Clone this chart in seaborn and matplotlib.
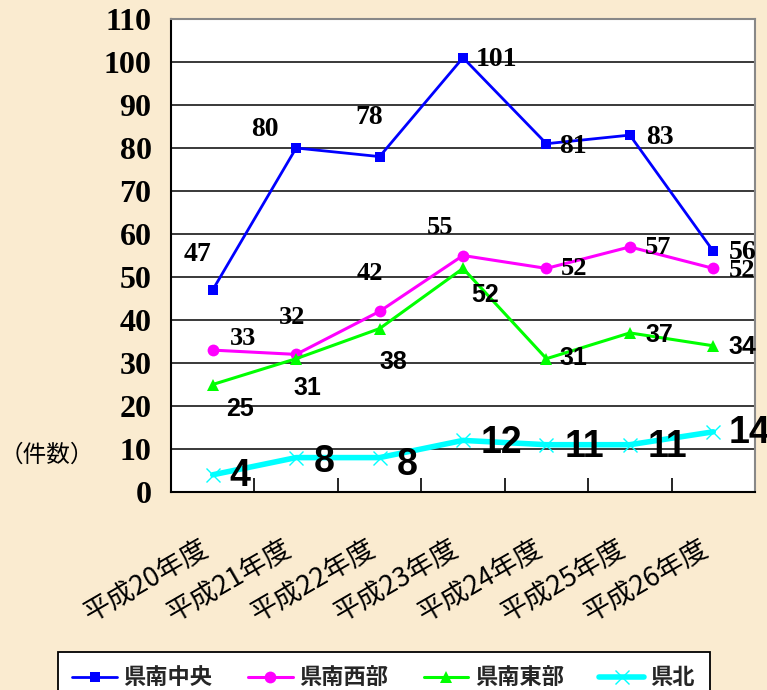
import numpy as np
import pandas as pd
import matplotlib
matplotlib.use("Agg")
import matplotlib.pyplot as plt
from matplotlib.transforms import ScaledTranslation
import seaborn as sns

# ---- data -------------------------------------------------------------
years = ["平成20年度", "平成21年度", "平成22年度", "平成23年度",
         "平成24年度", "平成25年度", "平成26年度"]
region_names = ["県南中央", "県南西部", "県南東部", "県北"]
kennan_chuo = [47, 80, 78, 101, 81, 83, 56]
kennan_seibu = [33, 32, 42, 55, 52, 57, 52]
kennan_tobu = [25, 31, 38, 52, 31, 37, 34]
kenpoku = [4, 8, 8, 12, 11, 11, 14]
y_ticks = list(range(0, 111, 10))
y_unit = "（件数）"

values = [kennan_chuo, kennan_seibu, kennan_tobu, kenpoku]
df = pd.DataFrame({
    "年度": years * len(region_names),
    "地域": np.repeat(region_names, len(years)),
    "件数": np.concatenate(values),
})

# ---- styling ----------------------------------------------------------
sns.set_theme(style="white")
plt.rcParams["font.family"] = ["Noto Sans CJK JP", "DejaVu Sans"]
SERIF_NUM = ["Liberation Serif", "DejaVu Serif"]
SANS_NUM = ["Liberation Sans", "DejaVu Sans"]
BG = "#FAEBD0"

styles = {
    "県南中央": dict(color="#0000FF", marker="s", lw=2.0, ms=6.5, mew=0),
    "県南西部": dict(color="#FF00FF", marker="o", lw=2.2, ms=8.5, mew=0),
    "県南東部": dict(color="#00FF00", marker="^", lw=2.2, ms=9.0, mew=0),
    "県北": dict(color="#00FFFF", marker="x", lw=4.0, ms=10.0, mew=1.0),
}

fig = plt.figure(figsize=(7.67, 6.9), dpi=100, facecolor=BG)
ax = fig.add_axes([171 / 767, 1 - 492 / 690, 584 / 767, 473 / 690])
ax.set_facecolor("white")

for name in region_names:
    st = styles[name]
    sub = df[df["地域"] == name]
    sns.lineplot(data=sub, x="年度", y="件数", ax=ax, color=st["color"],
                 marker=st["marker"], linewidth=st["lw"], markersize=st["ms"],
                 markeredgewidth=st["mew"], markeredgecolor=st["color"],
                 label=name, sort=False)

handles, labels = ax.get_legend_handles_labels()
if ax.get_legend() is not None:
    ax.get_legend().remove()

# ---- value labels -----------------------------------------------------
# offsets in pixels (dx, dy up) from each point
label_offsets = {
    "県南中央": [(-15, 35), (-31, 18), (-10, 39), (33, -2), (27, -3), (30, -2), (29, -1)],
    "県南西部": [(30, 12), (-4, 37), (-10, 38), (-23, 28), (28, 0), (28, -1), (29, -2)],
    "県南東部": [(27, -25), (11, -29), (14, -33), (22, -27), (27, 1), (30, -2), (29, -1)],
    "県北": [(27, -1), (28, -4), (28, -7), (38, -3), (38, -2), (38, -2), (36, -1)],
}
label_fonts = {
    "県南中央": (SERIF_NUM, 20),
    "県南西部": (SERIF_NUM, 19),
    "県南東部": (SANS_NUM, 18),
    "県北": (SANS_NUM, 27),
}

for name, vals in zip(region_names, values):
    fam, size = label_fonts[name]
    for i, v in enumerate(vals):
        dx, dy = label_offsets[name][i]
        ax.annotate(str(v), xy=(i, v), xytext=(dx, dy),
                    textcoords="offset pixels", ha="center", va="center",
                    fontfamily=fam, fontweight="bold", fontsize=size,
                    color="black", annotation_clip=False)

# ---- axes -------------------------------------------------------------
ax.set_xlim(-0.5, len(years) - 0.5)
ax.set_ylim(0, 110)
ax.set_yticks(y_ticks)
ax.set_yticklabels([str(t) for t in y_ticks], fontfamily=SERIF_NUM,
                   fontweight="bold", fontsize=23)
ax.set_xticks(range(len(years)))
ax.set_xticks(np.arange(0.5, len(years) - 1, 1), minor=True)
ax.tick_params(axis="y", length=0, pad=14, colors="black")
ax.tick_params(axis="x", which="major", length=0, pad=31, colors="black")
ax.tick_params(axis="x", which="minor", direction="in", length=10,
               width=1.2, color="black", bottom=True)
ax.set_xticklabels(years, rotation=30, ha="right", va="top",
                   rotation_mode="anchor", fontsize=19.5)
# nudge the slanted year labels left so their ends sit under each point
shift = ScaledTranslation(-13 / 100, 0, fig.dpi_scale_trans)
for lbl in ax.get_xticklabels():
    lbl.set_transform(lbl.get_transform() + shift)
ax.set_xlabel("")
ax.set_ylabel("")

ax.yaxis.grid(True, color="#2a2a2a", linewidth=1.3)
ax.xaxis.grid(False)
ax.set_axisbelow(True)
for side in ("left", "bottom"):
    ax.spines[side].set_color("black")
    ax.spines[side].set_linewidth(1.5)
for side in ("top", "right"):
    ax.spines[side].set_color("#888888")
    ax.spines[side].set_linewidth(1.5)

fig.text(0.0, 1 - 455 / 690, y_unit, fontsize=17, ha="left",
         va="center", color="black")

leg = fig.legend(handles, labels, loc="upper left",
                 bbox_to_anchor=(58 / 767, 1 - 652 / 690), ncol=4,
                 frameon=True, fancybox=False, edgecolor="black",
                 facecolor="white", framealpha=1, borderaxespad=0,
                 borderpad=0.65, handlelength=2.0, handletextpad=0.3,
                 columnspacing=1.6,
                 prop={"weight": "bold", "size": 16})
leg.get_frame().set_linewidth(1.3)

fig.savefig("out.png", dpi=100, facecolor=fig.get_facecolor())
